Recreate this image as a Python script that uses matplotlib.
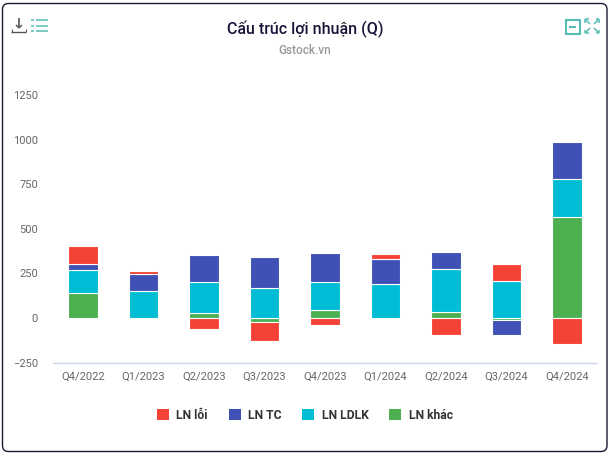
import matplotlib
matplotlib.use("Agg")
import matplotlib.pyplot as plt
import numpy as np
from matplotlib.patches import FancyBboxPatch, Rectangle
from matplotlib.lines import Line2D

quarters = ["Q4/2022", "Q1/2023", "Q2/2023", "Q3/2023", "Q4/2023",
            "Q1/2024", "Q2/2024", "Q3/2024", "Q4/2024"]
ln_khac = [138, 0, 30, -20, 47, 0, 36, -10, 568]
ln_ldlk = [132, 153, 174, 170, 157, 192, 237, 209, 213]
ln_tc = [34, 95, 148, 170, 159, 140, 96, -85, 208]
ln_loi = [103, 14, -62, -109, -39, 30, -95, 92, -146]
y_ticks = [-250, 0, 250, 500, 750, 1000, 1250]

series = [("LN khác", ln_khac, "#4CAF50"),
          ("LN LDLK", ln_ldlk, "#00BCD4"),
          ("LN TC", ln_tc, "#3F51B5"),
          ("LN lỗi", ln_loi, "#F44336")]

plt.rcParams["font.family"] = ["Roboto", "DejaVu Sans"]
W, H = 612, 454
fig = plt.figure(figsize=(W / 100, H / 100), dpi=100)
fx = lambda p: p / W
fy = lambda p: 1 - p / H

# card frame
fig.add_artist(FancyBboxPatch((2.5, H - 451.5), 604.5, 448, transform=None,
                              boxstyle="round,pad=0,rounding_size=6",
                              fc="white", ec="#1d1733", lw=1.0, zorder=-5))

ax = fig.add_axes([fx(53), fy(363.3), (597 - 53) / W, (363.3 - 95.3) / H])
ax.patch.set_alpha(0)
x = np.arange(len(quarters))
pos = np.zeros(len(quarters))
neg = np.zeros(len(quarters))
handles = {}
for name, vals, col in series:
    v = np.array(vals, dtype=float)
    bottoms = np.where(v >= 0, pos, neg)
    ax.bar(x, v, 0.49, bottom=bottoms, color=col, edgecolor="white",
           linewidth=0.8, label=name, zorder=3)
    handles[name] = Rectangle((0, 0), 1, 1, fc=col, ec="none")
    pos += np.where(v >= 0, v, 0)
    neg += np.where(v < 0, v, 0)

ax.set_xlim(-0.5, 8.5)
ax.set_ylim(-254, 1250)
ax.set_yticks(y_ticks)
ax.set_xticks(x, quarters)
ax.tick_params(axis="both", length=0, labelsize=8, labelcolor="#666666")
ax.tick_params(axis="x", pad=6)
ax.tick_params(axis="y", pad=10.8)
for s in ["top", "left", "right"]:
    ax.spines[s].set_visible(False)
ax.spines["bottom"].set_color("#ccd6eb")
ax.spines["bottom"].set_linewidth(1)

fig.text(fx(305), fy(29.5), "Cấu trúc lợi nhuận (Q)", ha="center", va="center",
         fontsize=11.5, fontweight="medium", color="#1a1438")
fig.text(fx(305), fy(51), "Gstock.vn", ha="center", va="center",
         fontsize=8.5, fontweight="medium", color="#999999")

order = ["LN lỗi", "LN TC", "LN LDLK", "LN khác"]
leg = fig.legend([handles[n] for n in order], order, ncol=4, frameon=False,
                 loc="center", bbox_to_anchor=(fx(305), fy(415.5)), fontsize=8.7,
                 handlelength=1.0, handleheight=1.0, handletextpad=0.6,
                 columnspacing=1.72, borderpad=0)
for t in leg.get_texts():
    t.set_fontweight("bold")
    t.set_color("#333333")


def seg(x0, y0, x1, y1, c, lw=1.0):
    fig.add_artist(Line2D([fx(x0), fx(x1)], [fy(y0), fy(y1)], color=c, lw=lw,
                          transform=fig.transFigure, solid_capstyle="butt"))


# download icon
dk = "#555555"
seg(19, 18, 19, 28, dk, 1.2)
seg(16, 25, 19, 28, dk, 1.0)
seg(22, 25, 19, 28, dk, 1.0)
seg(11, 32, 26, 32, dk, 1.0)
seg(11.5, 29, 11.5, 32, dk, 0.8)
seg(25.5, 29, 25.5, 32, dk, 0.8)
# list icon
teal = "#55BDB3"
for py in (20, 25.5, 31):
    seg(31, py, 34, py, teal, 1.1)
    seg(35.5, py, 48, py, teal, 1.1)
# minimize icon
fig.add_artist(Rectangle((fx(565.5), fy(34)), 14 / W, 14.5 / H, transform=fig.transFigure,
                         fc="none", ec=teal, lw=1.5))
seg(569, 26.5, 576, 26.5, teal, 1.5)
# expand icon
for (cx, cy, dx, dy) in [(585, 19, 1, 1), (599, 19, -1, 1), (585, 33, 1, -1), (599, 33, -1, -1)]:
    seg(cx + dx, cy + dy, cx + 5 * dx, cy + 5 * dy, teal, 1.1)
    seg(cx, cy, cx + 3.5 * dx, cy, teal, 1.1)
    seg(cx, cy, cx, cy + 3.5 * dy, teal, 1.1)

fig.savefig("out.png", dpi=100)
